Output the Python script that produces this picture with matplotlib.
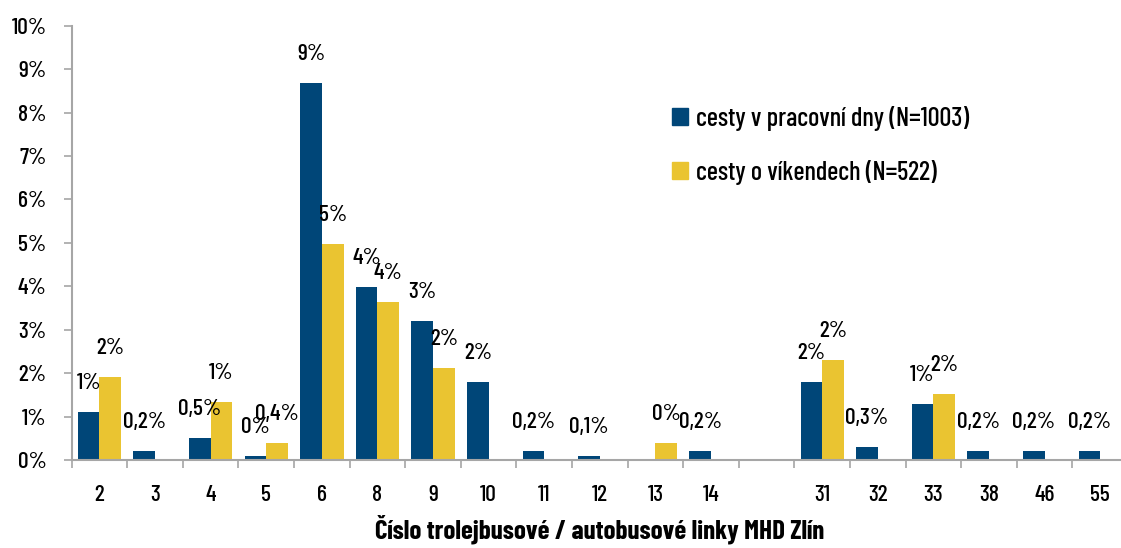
import numpy as np
import matplotlib
matplotlib.use("Agg")
import matplotlib.pyplot as plt
from matplotlib import font_manager
from matplotlib.patches import Patch

# ----- data -----
lines = ["2", "3", "4", "5", "6", "8", "9", "10", "11", "12", "13", "14", "",
         "31", "32", "33", "38", "46", "55"]
weekday = [1.10, 0.20, 0.50, 0.10, 8.67, 3.99, 3.20, 1.79, 0.20, 0.09, 0.0, 0.20, 0.0,
           1.80, 0.30, 1.30, 0.20, 0.20, 0.20]
weekend = [1.92, 0.0, 1.34, 0.38, 4.98, 3.64, 2.12, 0.0, 0.0, 0.0, 0.39, 0.0, 0.0,
           2.30, 0.0, 1.53, 0.0, 0.0, 0.0]
weekday_lbl = ["1%", "0,2%", "0,5%", "0%", "9%", "4%", "3%", "2%", "0,2%", "0,1%", "", "0,2%", "",
               "2%", "0,3%", "1%", "0,2%", "0,2%", "0,2%"]
weekend_lbl = ["2%", "", "1%", "0,4%", "5%", "4%", "2%", "", "", "", "0%", "", "",
               "2%", "", "2%", "", "", ""]
series_names = ["cesty v pracovní dny (N=1003)", "cesty o víkendech (N=522)"]
yticks = list(range(0, 11))
xlabel = "Číslo trolejbusové / autobusové linky MHD Zlín"

BLUE = "#004678"
YELLOW = "#EAC431"
AXIS = "#A6A6A6"

# DIN-like condensed face if the box has it, otherwise plain DejaVu
names = {f.name for f in font_manager.fontManager.ttflist}
if "Barlow Condensed" in names:
    plt.rcParams["font.family"] = ["Barlow Condensed", "DejaVu Sans"]
    plt.rcParams["font.weight"] = 500
    FS, FS_LEG, FS_TITLE = 17, 19, 19.5
else:
    plt.rcParams["font.family"] = ["DejaVu Sans"]
    FS, FS_LEG, FS_TITLE = 12, 13, 13

W, H = 1121, 548
fig = plt.figure(figsize=(W / 100, H / 100), dpi=100)
ax = fig.add_axes([71.7 / W, (H - 460) / H, (1128 - 71.7) / W, (460 - 25.7) / H])

x = np.arange(len(lines))
bw = 0.39
ax.bar(x - bw / 2, weekday, bw, color=BLUE, linewidth=0)
ax.bar(x + bw / 2, weekend, bw, color=YELLOW, linewidth=0)

# data labels
for xi, v, t in zip(x, weekday, weekday_lbl):
    if t:
        ax.annotate(t, (xi - bw / 2, v), xytext=(0, 29), textcoords="offset pixels",
                    ha="center", va="center", fontsize=FS)
for xi, v, t in zip(x, weekend, weekend_lbl):
    if t:
        ax.annotate(t, (xi + bw / 2, v), xytext=(0, 29), textcoords="offset pixels",
                    ha="center", va="center", fontsize=FS)

ax.set_xlim(-0.5, len(lines) - 0.5)
ax.set_ylim(0, 10)
ax.set_yticks(yticks)
ax.set_yticklabels([f"{t}%" for t in yticks], fontsize=FS)
ax.tick_params(axis="y", length=6, width=1.2, color=AXIS, pad=12)

ax.set_xticks(np.arange(-0.5, len(lines)), minor=False)
ax.set_xticklabels([])
ax.set_xticks(x, minor=True)
ax.set_xticklabels(lines, minor=True, fontsize=FS)
ax.tick_params(axis="x", which="major", length=6, width=1.2, color=AXIS)
ax.tick_params(axis="x", which="minor", length=0, pad=18)

for s in ["top", "right"]:
    ax.spines[s].set_visible(False)
for s in ["left", "bottom"]:
    ax.spines[s].set_color(AXIS)
    ax.spines[s].set_linewidth(1.5)

fig.text(600 / W, 1 - 529 / H, xlabel, ha="center", va="center",
         fontsize=FS_TITLE, fontweight="bold")

handles = [Patch(color=BLUE), Patch(color=YELLOW)]
fig.legend(handles, series_names, loc="upper left",
           bbox_to_anchor=(672 / W, 1 - 106 / H), frameon=False, fontsize=FS_LEG,
           handlelength=0.62, handleheight=0.62, handletextpad=0.3,
           labelspacing=1.1, borderpad=0, borderaxespad=0)

fig.savefig("out.png", dpi=100)
